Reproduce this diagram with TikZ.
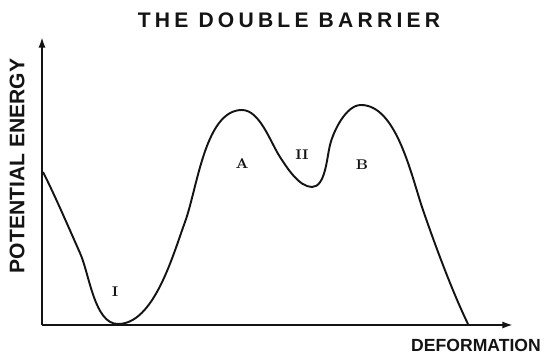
\documentclass[tikz,border=0pt]{standalone}
\usepackage{fontspec}
\usepackage{tikz}
\usetikzlibrary{arrows.meta, calc}
\newfontfamily\letterfont[LetterSpace=20]{Liberation Sans}
\newfontfamily\axisfont{Liberation Sans}
\definecolor{inkcol}{RGB}{20,20,20}

\begin{document}
\begin{tikzpicture}[
    axis/.style={-{Latex[length=6pt, width=4pt]}, line width=1.1pt, draw=inkcol},
    barrier/.style={line width=1.1pt, draw=inkcol, looseness=0.75},
    wellname/.style={text=inkcol, font=\footnotesize\bfseries\rmfamily, inner sep=1pt},
]

\path[use as bounding box] (0,0) rectangle (11.1,7.1);

% ════════════════════════════════════════════════════════
% 0. TITLE
% ════════════════════════════════════════════════════════
\node[text=inkcol, font=\letterfont\bfseries\large] (title) at (5.78, 6.70)
    {THE DOUBLE BARRIER};

% ════════════════════════════════════════════════════════
% 1. AXES
% ════════════════════════════════════════════════════════
\coordinate (O)  at (0.84, 0.60);
\coordinate (YT) at (0.84, 6.36);
\coordinate (XT) at (10.26, 0.60);

\draw[axis] (O) -- (YT);
\draw[axis] (O) -- (XT);

\node[text=inkcol, font=\axisfont\bfseries\large, rotate=90] (ylab) at (0.34, 3.78)
    {POTENTIAL ENERGY};
\node[text=inkcol, font=\axisfont\bfseries] (xlab) at (9.52, 0.20)
    {DEFORMATION};

% ════════════════════════════════════════════════════════
% 2. POTENTIAL CURVE (well I, barrier A, well II, barrier B)
% ════════════════════════════════════════════════════════
\coordinate (S)  at (0.86, 3.66);
\coordinate (L1) at (1.60, 2.04);
\coordinate (W1) at (2.36, 0.62);
\coordinate (R1) at (3.70, 2.66);
\coordinate (PA) at (4.84, 4.90);
\coordinate (D1) at (5.60, 3.96);
\coordinate (W2) at (6.24, 3.36);
\coordinate (R2) at (6.60, 4.20);
\coordinate (PB) at (7.22, 5.00);
\coordinate (D2) at (8.46, 2.90);
\coordinate (E)  at (9.36, 0.62);

\draw[barrier]
    (S)  to[out=-63, in=114]  (L1)
         to[out=-66, in=180]  (W1)
         to[out=0,   in=-110] (R1)
         to[out=70,  in=180]  (PA)
         to[out=0,   in=123]  (D1)
         to[out=-57, in=180]  (W2)
         to[out=0,   in=-104] (R2)
         to[out=76,  in=180]  (PB)
         to[out=0,   in=109]  (D2)
         to[out=-71, in=116]  (E);

% ════════════════════════════════════════════════════════
% 3. LABELS
% ════════════════════════════════════════════════════════
\node[wellname] (lI)  at (2.30, 1.26) {I};
\node[wellname] (lA)  at (4.84, 3.82) {A};
\node[wellname] (lII) at (6.04, 4.00) {II};
\node[wellname] (lB)  at (7.24, 3.80) {B};

\end{tikzpicture}
\end{document}
